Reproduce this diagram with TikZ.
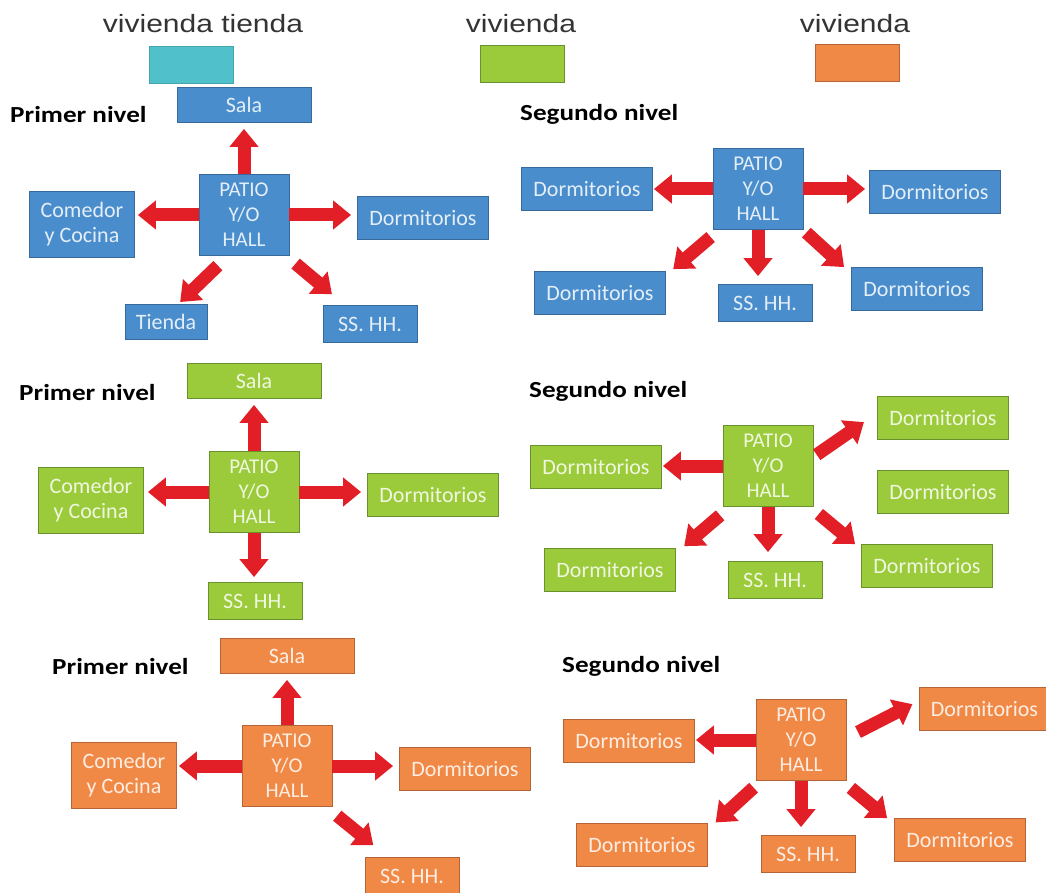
\documentclass[tikz,border=0pt]{standalone}
\usepackage{fontspec}
\setmainfont{Carlito}
\newfontfamily\leyendafont[FakeStretch=1.2]{Liberation Sans}
\newfontfamily\nivelfont[FakeStretch=1.18]{Carlito}
\usetikzlibrary{arrows.meta}

\definecolor{azul}{RGB}{74,141,204}
\definecolor{azulborde}{RGB}{55,105,155}
\definecolor{verde}{RGB}{155,203,58}
\definecolor{verdeborde}{RGB}{105,145,45}
\definecolor{naranja}{RGB}{241,137,70}
\definecolor{naranjaborde}{RGB}{180,100,55}
\definecolor{cian}{RGB}{80,193,203}
\definecolor{rojo}{RGB}{226,30,38}

\tikzset{
  caja/.style={rectangle, draw, line width=0.8pt, inner sep=0pt, align=center,
    font=\fontsize{22}{25}\selectfont},
  azulbox/.style={caja, fill=azul, draw=azulborde, text=white!85!azul},
  verdebox/.style={caja, fill=verde, draw=verdeborde, text=white!85!verde},
  naranjabox/.style={caja, fill=naranja, draw=naranjaborde, text=white!85!naranja},
  salabox/.style={minimum width=134pt, minimum height=35pt},
  hallbox/.style={minimum width=90pt, minimum height=81pt, font=\fontsize{21}{25}\selectfont},
  combox/.style={minimum width=105pt, minimum height=66pt},
  dormbox/.style={minimum width=131pt, minimum height=43pt},
  tiendabox/.style={minimum width=82pt, minimum height=35pt},
  banobox/.style={minimum width=94pt, minimum height=37pt},
  muestra/.style={rectangle, inner sep=0pt, minimum width=84pt, minimum height=37pt, line width=0.6pt},
  nivel/.style={anchor=base west, inner sep=0pt, font=\nivelfont\bfseries\fontsize{23}{25}\selectfont},
  leyenda/.style={anchor=base, inner sep=0pt, text=black!80, font=\leyendafont\fontsize{25}{30}\selectfont},
  flecha/.style={draw=rojo, line width=13pt, -{Triangle[width=28pt,length=18pt]}},
}

\begin{document}
\begin{tikzpicture}[x=1pt,y=-1pt]
\useasboundingbox (0,0) rectangle (1046,893);

% leyenda
\node[leyenda] (l1) at (203,33) {vivienda tienda};
\node[muestra, fill=cian, draw=cian!85!black] (k1) at (191.5,64.5) {};
\node[leyenda] (l2) at (521,33) {vivienda};
\node[muestra, fill=verde, draw=verdeborde] (k2) at (522,64) {};
\node[leyenda] (l3) at (855,33) {vivienda};
\node[muestra, fill=naranja, draw=naranjaborde] (k3) at (857,62.5) {};

% vivienda tienda, primer nivel
\node[nivel] (n1) at (10,123) {Primer nivel};
\node[azulbox, salabox] (s1) at (244,105) {Sala};
\node[azulbox, hallbox] (h1) at (244,215) {PATIO\\Y/O\\HALL};
\node[azulbox, combox] (c1) at (82,224) {Comedor\\y Cocina};
\node[azulbox, dormbox] (d1) at (423,218) {Dormitorios};
\node[azulbox, tiendabox] (ti1) at (166,322) {Tienda};
\node[azulbox, banobox] (b1) at (370,324) {SS. HH.};
\draw[flecha, shorten >=6pt] (h1.north) -- (h1.north |- s1.south);
\draw[flecha, shorten >=3pt] (h1.west) -- (h1.west -| c1.east);
\draw[flecha, shorten >=6pt] (h1.east) -- (h1.east -| d1.west);
\draw[flecha, shorten <=14pt, shorten >=3pt] ([xshift=-16pt]h1.south) -- ([xshift=12pt]ti1.north);
\draw[flecha, shorten <=12pt, shorten >=17pt] ([xshift=-3pt]h1.south east) -- ([xshift=-25pt]b1.north);

% vivienda tienda, segundo nivel
\node[nivel] (n2) at (520,121) {Segundo nivel};
\node[azulbox, hallbox] (h2) at (758,189) {PATIO\\Y/O\\HALL};
\node[azulbox, dormbox] (d2a) at (587,189) {Dormitorios};
\node[azulbox, dormbox] (d2b) at (935,192) {Dormitorios};
\node[azulbox, dormbox] (d2c) at (600,293) {Dormitorios};
\node[azulbox, banobox] (b2) at (765,303) {SS. HH.};
\node[azulbox, dormbox] (d2d) at (917,289) {Dormitorios};
\draw[flecha, shorten >=1pt] (h2.west) -- (h2.west -| d2a.east);
\draw[flecha, shorten >=4pt] (h2.east) -- (h2.east -| d2b.west);
\draw[flecha, shorten >=8pt] (h2.south) -- (h2.south |- b2.north);
\draw[flecha, shorten <=11pt, shorten >=3pt] ([xshift=-39pt]h2.south) -- ([xshift=5pt]d2c.north east);
\draw[flecha, shorten <=4pt] (h2.south east) -- ([xshift=-7pt]d2d.north west);

% vivienda, primer nivel
\node[nivel] (n3) at (19,400) {Primer nivel};
\node[verdebox, salabox] (s3) at (254,381) {Sala};
\node[verdebox, hallbox] (h3) at (254,492) {PATIO\\Y/O\\HALL};
\node[verdebox, combox] (c3) at (91,500) {Comedor\\y Cocina};
\node[verdebox, dormbox] (d3) at (433,495) {Dormitorios};
\node[verdebox, banobox] (b3) at (255,601) {SS. HH.};
\draw[flecha, shorten >=6pt] (h3.north) -- (h3.north |- s3.south);
\draw[flecha, shorten >=4pt] (h3.west) -- (h3.west -| c3.east);
\draw[flecha, shorten >=6pt] (h3.east) -- (h3.east -| d3.west);
\draw[flecha, shorten >=5pt] (h3.south) -- (h3.south |- b3.north);

% vivienda, segundo nivel
\node[nivel] (n4) at (529,397) {Segundo nivel};
\node[verdebox, hallbox] (h4) at (768,466) {PATIO\\Y/O\\HALL};
\node[verdebox, dormbox] (d4a) at (596,467) {Dormitorios};
\node[verdebox, dormbox] (d4b) at (943,418) {Dormitorios};
\node[verdebox, dormbox] (d4c) at (943,492) {Dormitorios};
\node[verdebox, dormbox] (d4d) at (610,570) {Dormitorios};
\node[verdebox, banobox] (b4) at (775,580) {SS. HH.};
\node[verdebox, dormbox] (d4e) at (927,566) {Dormitorios};
\draw[flecha, shorten >=1pt] (h4.west) -- (h4.west -| d4a.east);
\draw[flecha, shorten <=4pt, shorten >=16pt] ([yshift=9pt]h4.east) -- ([yshift=5pt]d4b.west);
\draw[flecha, shorten >=9pt] (h4.south) -- (h4.south |- b4.north);
\draw[flecha, shorten <=13pt, shorten >=3pt] ([xshift=-38pt]h4.south) -- ([xshift=6pt]d4d.north east);
\draw[flecha, shorten <=11pt] ([xshift=-3pt]h4.south east) -- ([xshift=-6pt]d4e.north west);

% vivienda (naranja), primer nivel
\node[nivel] (n5) at (52,674) {Primer nivel};
\node[naranjabox, salabox] (s5) at (287,656) {Sala};
\node[naranjabox, hallbox] (h5) at (287,766) {PATIO\\Y/O\\HALL};
\node[naranjabox, combox] (c5) at (124,775) {Comedor\\y Cocina};
\node[naranjabox, dormbox] (d5) at (465,769) {Dormitorios};
\node[naranjabox, banobox] (b5) at (412,876) {SS. HH.};
\draw[flecha, shorten >=6pt] (h5.north) -- (h5.north |- s5.south);
\draw[flecha, shorten >=2pt] (h5.west) -- (h5.west -| c5.east);
\draw[flecha, shorten >=6pt] (h5.east) -- (h5.east -| d5.west);
\draw[flecha, shorten <=14pt, shorten >=19pt] ([xshift=-6pt]h5.south east) -- ([xshift=-24pt]b5.north);

% vivienda (naranja), segundo nivel
\node[nivel] (n6) at (562,672) {Segundo nivel};
\node[naranjabox, hallbox] (h6) at (801,740) {PATIO\\Y/O\\HALL};
\node[naranjabox, dormbox] (d6a) at (629,741) {Dormitorios};
\node[naranjabox, dormbox] (d6b) at (984.5,709) {Dormitorios};
\node[naranjabox, dormbox] (d6c) at (642,845) {Dormitorios};
\node[naranjabox, banobox] (b6) at (808,854) {SS. HH.};
\node[naranjabox, dormbox] (d6d) at (960,840) {Dormitorios};
\draw[flecha, shorten >=1pt] (h6.west) -- (h6.west -| d6a.east);
\draw[flecha, shorten <=13pt, shorten >=7pt] ([yshift=2pt]h6.east) -- ([yshift=8pt]d6b.west);
\draw[flecha, shorten >=8pt] (h6.south) -- (h6.south |- b6.north);
\draw[flecha, shorten <=10pt, shorten >=1pt] ([xshift=-40pt]h6.south) -- ([xshift=7pt]d6c.north east);
\draw[flecha, shorten <=11pt] ([xshift=-4pt]h6.south east) -- ([xshift=-7pt]d6d.north west);
\end{tikzpicture}
\end{document}
